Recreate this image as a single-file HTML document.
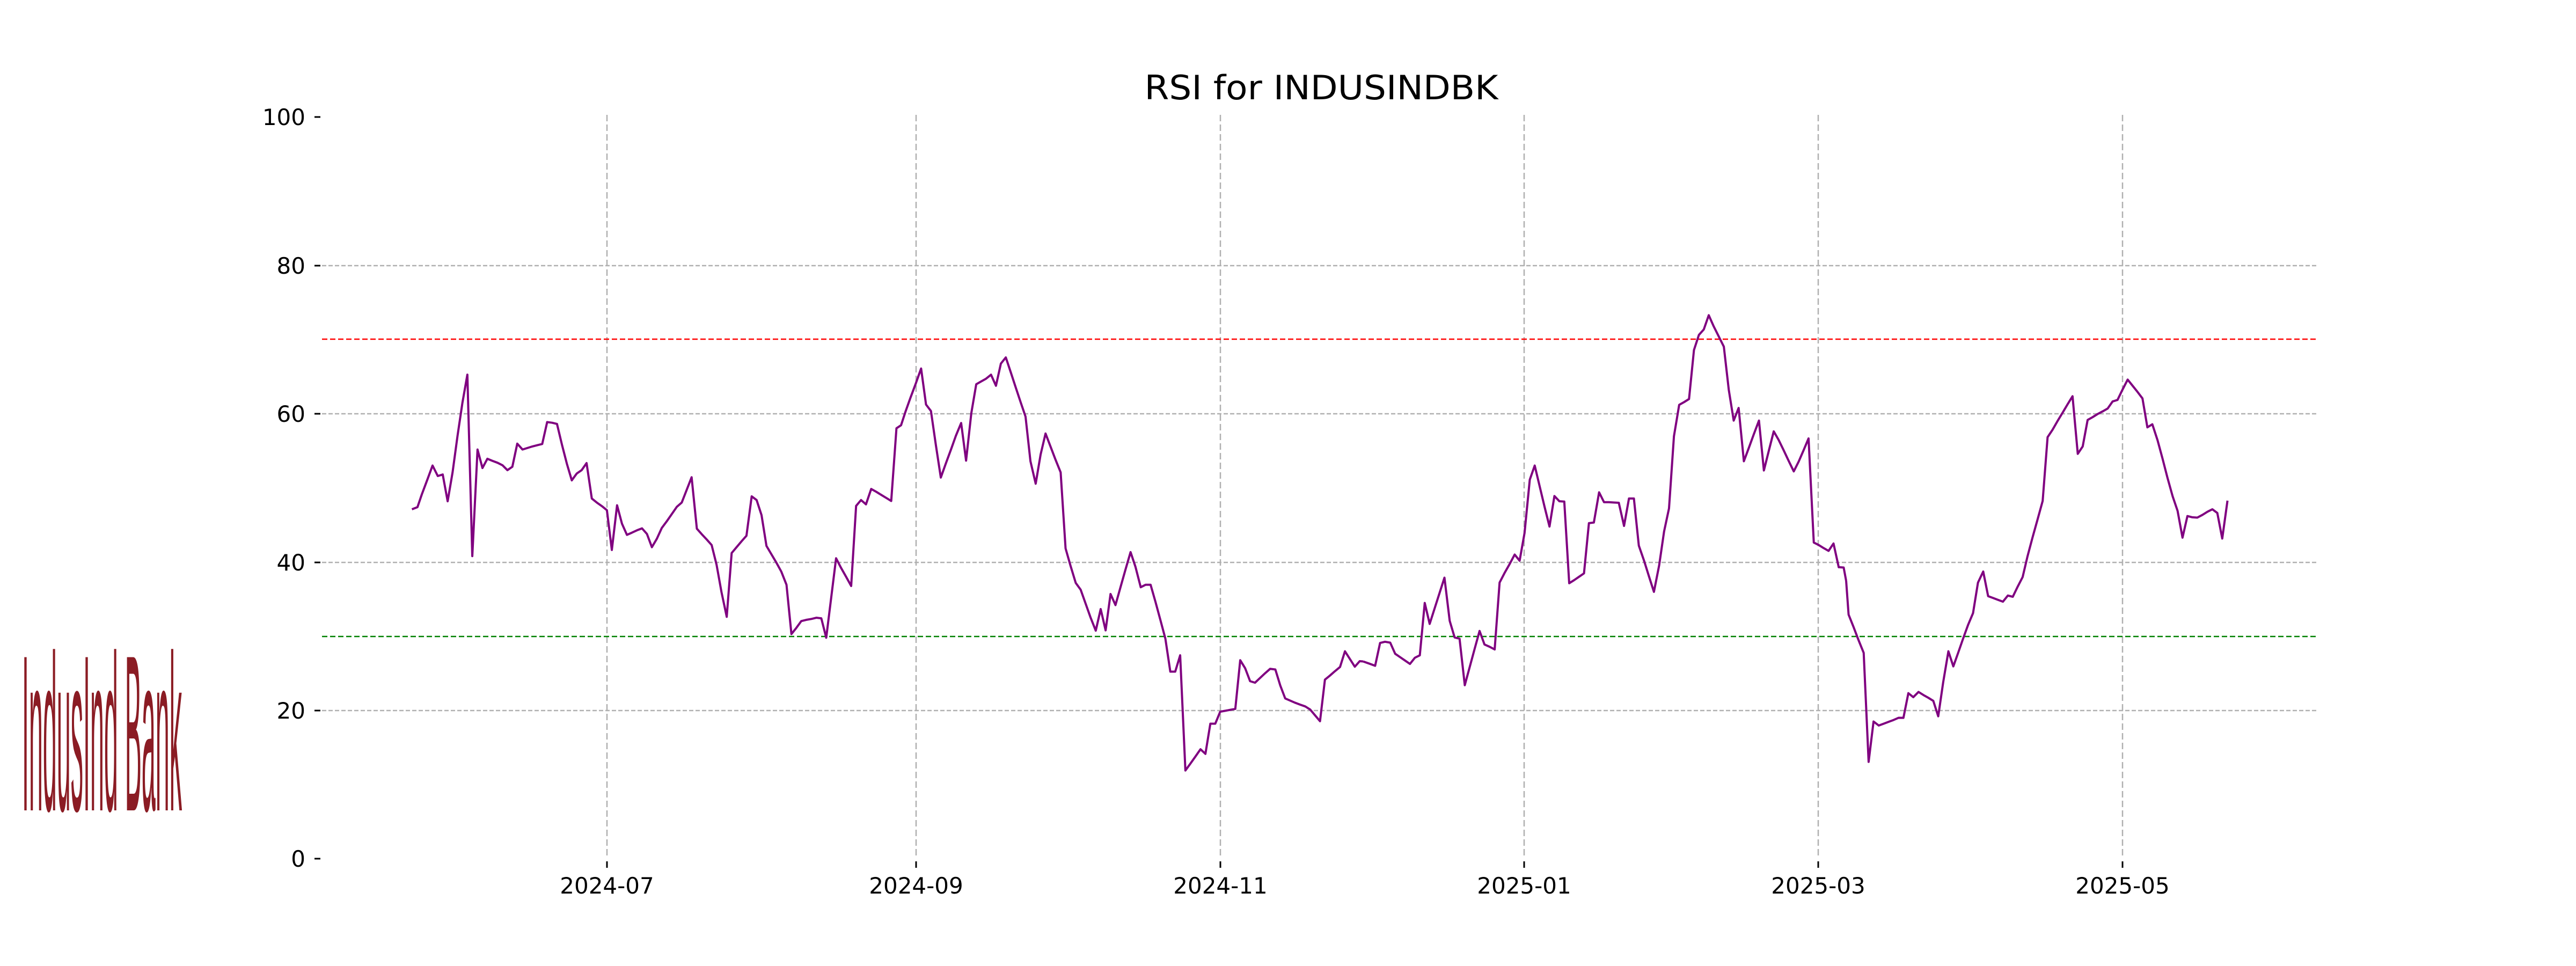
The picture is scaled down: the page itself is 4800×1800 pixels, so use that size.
<!DOCTYPE html>
<html><head><meta charset="utf-8"><style>html,body{margin:0;padding:0;background:#fff}svg{display:block}</style></head>
<body>
<svg width="4800" height="1800" viewBox="0 0 4800 1800" xmlns="http://www.w3.org/2000/svg" font-family="'DejaVu Sans','Liberation Sans',sans-serif">
<rect width="4800" height="1800" fill="#fff"/>
<text x="41" y="1510" font-size="415" fill="#8b1c24" textLength="298" lengthAdjust="spacingAndGlyphs" font-family="'Liberation Sans',sans-serif">IndusInd Bank</text>
<text x="2462" y="185" font-size="62" text-anchor="middle" textLength="659" lengthAdjust="spacingAndGlyphs">RSI for INDUSINDBK</text>
<g stroke="#b0b0b0" stroke-width="2.5" stroke-dasharray="8,4" fill="none">
<line x1="600" y1="495" x2="4317" y2="495"/>
<line x1="600" y1="771" x2="4317" y2="771"/>
<line x1="600" y1="1048" x2="4317" y2="1048"/>
<line x1="600" y1="1324" x2="4317" y2="1324"/>
</g>
<g stroke="#b0b0b0" stroke-width="2.5" stroke-dasharray="12,6" fill="none">
<line x1="1131" y1="214" x2="1131" y2="1600"/>
<line x1="1707" y1="214" x2="1707" y2="1600"/>
<line x1="2274" y1="214" x2="2274" y2="1600"/>
<line x1="2840" y1="214" x2="2840" y2="1600"/>
<line x1="3388" y1="214" x2="3388" y2="1600"/>
<line x1="3955" y1="214" x2="3955" y2="1600"/>
</g>
<line x1="600" y1="632" x2="4317" y2="632" stroke="#ff0000" stroke-width="2.5" stroke-dasharray="10,5"/>
<line x1="600" y1="1186" x2="4317" y2="1186" stroke="#008000" stroke-width="2.5" stroke-dasharray="10,5"/>
<g stroke="#000" stroke-width="3">
<line x1="586" y1="218" x2="597" y2="218"/>
<line x1="586" y1="495" x2="597" y2="495"/>
<line x1="586" y1="771" x2="597" y2="771"/>
<line x1="586" y1="1048" x2="597" y2="1048"/>
<line x1="586" y1="1324" x2="597" y2="1324"/>
<line x1="586" y1="1600" x2="597" y2="1600"/>
<line x1="1131" y1="1605" x2="1131" y2="1617"/>
<line x1="1707" y1="1605" x2="1707" y2="1617"/>
<line x1="2274" y1="1605" x2="2274" y2="1617"/>
<line x1="2840" y1="1605" x2="2840" y2="1617"/>
<line x1="3388" y1="1605" x2="3388" y2="1617"/>
<line x1="3955" y1="1605" x2="3955" y2="1617"/>
</g>
<g font-size="42" text-anchor="end" fill="#000">
<text x="569" y="233">100</text>
<text x="569" y="510">80</text>
<text x="569" y="786">60</text>
<text x="569" y="1063">40</text>
<text x="569" y="1339">20</text>
<text x="569" y="1615">0</text>
</g>
<g font-size="42" text-anchor="middle" fill="#000">
<text x="1131" y="1665">2024-07</text>
<text x="1707" y="1665">2024-09</text>
<text x="2274" y="1665">2024-11</text>
<text x="2840" y="1665">2025-01</text>
<text x="3388" y="1665">2025-03</text>
<text x="3955" y="1665">2025-05</text>
</g>
<g fill="none" stroke="#800080" stroke-width="7" stroke-linejoin="round">
<polyline transform="translate(740,600) scale(0.57398)" points="48,608 66,601 80,560 98,512 115,466 132,500 148,495 164,582 180,488 196,370 212,262 228,171 244,760 261,414 277,474 293,444 310,451 326,457 342,465 358,481 374,470 390,395 407,414 423,409 439,404 455,400 471,396 487,325 503,327 519,331 535,398 551,460 567,514 583,492 599,481 615,458 632,573 648,586 665,598 681,611 697,740 714,595 730,655 746,691 762,684 779,676 795,670 811,688 827,731 843,704 859,669 876,646 892,623 908,600 924,586 940,545 956,504 973,671 989,689 1005,706 1021,724 1037,788 1053,877 1070,957 1086,750 1102,731 1118,712 1134,694 1151,566 1167,578 1183,627 1199,727 1215,754 1231,781 1247,810 1264,853 1280,1013 1296,993 1312,971 1328,967 1345,964 1361,960 1377,962 1393,1025 1409,896 1425,767 1441,798 1458,828 1474,857 1490,597 1506,578 1522,592 1539,542 1555,551 1568,559"/>
<polyline transform="translate(1640,600) scale(0.57398)" points="0,559 36,581 53,345 68,335 82,292 98,247 116,199 133,151 149,268 165,289 181,400 197,505 213,460 230,414 246,369 263,328 279,450 296,296 312,202 328,193 344,184 360,171 376,207 392,135 408,115 424,163 440,212 456,260 472,307 488,452 505,525 521,430 537,362 553,404 569,446 586,488 602,735 618,791 635,847 651,869 667,914 683,959 700,1002 716,932 732,1001 748,883 764,919 780,862 797,802 813,747 829,795 846,861 862,853 878,853 894,909 910,968 926,1028 942,1135 958,1135 974,1082 991,1456 1007,1434 1024,1410 1040,1387 1056,1402 1072,1304 1088,1304 1104,1265 1121,1262 1137,1259 1153,1256 1169,1098 1185,1124 1201,1166 1217,1171 1234,1155 1250,1140 1266,1126 1283,1128 1299,1180 1315,1222 1331,1229 1347,1236 1363,1242 1380,1248 1396,1258 1412,1277 1428,1296 1444,1161 1460,1148 1476,1134 1493,1120 1509,1069 1525,1094 1541,1119 1557,1101 1568,1102"/>
<polyline transform="translate(2540,600) scale(0.57398)" points="0,1102 20,1109 39,1116 55,1042 71,1038 88,1041 104,1077 120,1088 136,1099 152,1110 168,1090 184,1082 200,912 216,980 232,930 248,880 264,830 281,970 297,1024 313,1028 330,1179 346,1120 362,1061 378,1003 394,1047 410,1054 427,1063 443,846 459,815 476,785 492,755 508,775 524,685 541,512 557,466 573,533 589,600 605,664 621,565 637,582 653,583 669,848 685,838 701,827 717,816 733,653 749,651 766,553 782,585 798,585 814,586 830,587 847,662 863,573 879,573 895,726 912,775 928,826 944,876 961,790 977,680 993,605 1009,371 1026,269 1042,260 1058,250 1074,91 1090,42 1106,24 1122,-22 1138,14 1154,46 1171,80 1187,220 1203,320 1219,279 1236,452 1252,409 1268,365 1285,320 1301,482 1317,418 1333,355 1349,383 1365,416 1381,450 1398,485 1414,453 1430,416 1446,378 1463,716 1479,724 1495,734 1511,743 1527,719 1544,796 1560,797 1568,840"/>
<polyline transform="translate(3440,600) scale(0.57398)" points="0,840 8,950 24,990 40,1032 57,1074 73,1428 89,1297 106,1310 122,1304 138,1298 154,1292 170,1285 186,1285 202,1205 218,1218 235,1201 251,1211 267,1220 283,1230 299,1280 315,1170 332,1069 348,1118 364,1073 380,1027 396,983 412,945 428,846 445,810 461,890 477,896 493,902 509,908 525,888 541,892 557,859 573,828 589,760 605,700 622,639 638,581 654,374 670,350 686,322 703,294 719,267 735,241 752,428 768,404 784,318 800,309 816,299 833,290 849,281 865,258 881,253 897,220 914,187 930,207 946,227 962,248 978,342 994,332 1011,384 1027,443 1043,505 1060,566 1076,613 1092,700 1108,630 1124,634 1140,635 1157,626 1173,616 1189,608 1205,620 1221,703 1238,580"/>
</g>
</svg>
</body></html>
